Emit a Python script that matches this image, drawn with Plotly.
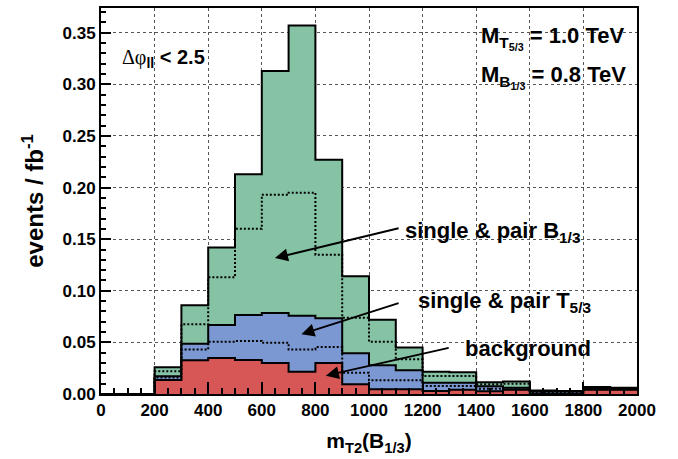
import plotly.graph_objects as go

# bin edges (GeV) and cumulative stacked levels
edges = list(range(0, 2001, 100))
background = [0, 0, 0.0135, 0.0326, 0.035, 0.033, 0.030, 0.0215, 0.030, 0.0094,
              0.0045, 0.0045, 0.003, 0.004, 0.0027, 0.004, 0.0005, 0.0005, 0.004, 0.004]
t53_pair_level = [0, 0, 0.0160, 0.043, 0.0507, 0.0514, 0.0497, 0.043, 0.0455, 0.0207,
                  0.0133, 0.0133, 0.0078, 0.0078, 0.0050, 0.0045, 0.002, 0.002, 0.0045, 0.0045]
t53_total_level = [0, 0, 0.0171, 0.0488, 0.0669, 0.0766, 0.0785, 0.0759, 0.0733, 0.0394,
                   0.0278, 0.023, 0.011, 0.011, 0.0075, 0.006, 0.003, 0.003, 0.005, 0.005]
b13_pair_level = [0, 0, 0.022, 0.0675, 0.113, 0.160, 0.193, 0.195, 0.135, 0.074,
                  0.0507, 0.0336, 0.0174, 0.0174, 0.0094, 0.0100, 0.003, 0.003, 0.006, 0.0055]
b13_total_level = [0, 0, 0.026, 0.086, 0.142, 0.213, 0.313, 0.357, 0.227, 0.114,
                   0.072, 0.045, 0.0216, 0.021, 0.0115, 0.012, 0.0035, 0.003, 0.0068, 0.006]

x_ticks = list(range(0, 2001, 200))
y_ticks = [0.00, 0.05, 0.10, 0.15, 0.20, 0.25, 0.30, 0.35]

GREEN = "#85C3A4"
BLUE = "#7B98D2"
RED = "#D65756"
FONT = "Liberation Sans"

W, H = 678, 459
ML, MR, MT, MB = 101, 41, 6, 65


def step(vals):
    return vals + [vals[-1]]


fig = go.Figure()
for lvl, col in [(b13_total_level, GREEN), (t53_total_level, BLUE), (background, RED)]:
    fig.add_trace(go.Scatter(x=edges, y=step(lvl), mode="lines", line_shape="hv",
                             line=dict(color="black", width=2), fill="tozeroy",
                             fillcolor=col, hoverinfo="skip", showlegend=False))
for lvl in [b13_pair_level, t53_pair_level]:
    fig.add_trace(go.Scatter(x=edges, y=step(lvl), mode="lines", line_shape="hv",
                             line=dict(color="black", width=2, dash="2px,2px"),
                             hoverinfo="skip", showlegend=False))

axis_common = dict(showline=True, linecolor="black", linewidth=2, mirror=True,
                   ticks="inside", tickcolor="black", tickwidth=1.5,
                   showgrid=True, gridcolor="#555555", gridwidth=1, griddash="dot",
                   zeroline=False,
                   tickfont=dict(family=FONT, size=17, color="black", weight="bold"))

fig.update_layout(
    width=W, height=H,
    margin=dict(l=ML, r=MR, t=MT, b=MB),
    paper_bgcolor="white", plot_bgcolor="white",
    xaxis=dict(range=[0, 2000], tickvals=x_ticks, ticklen=12,
               minor=dict(dtick=50, ticks="inside", ticklen=6, tickcolor="black",
                          tickwidth=1.5, showgrid=False),
               title=dict(text="m<sub>T2</sub>(B<sub>1/3</sub>)", standoff=14,
                          font=dict(family=FONT, size=21, color="black", weight="bold")),
               **axis_common),
    yaxis=dict(range=[0, 0.374], tickvals=y_ticks, tickformat=".2f", ticklen=10,
               minor=dict(dtick=0.01, ticks="inside", ticklen=5, tickcolor="black",
                          tickwidth=1.5, showgrid=False),
               title=dict(text="events / fb<sup>-1</sup>", standoff=12,
                          font=dict(family=FONT, size=24, color="black", weight="bold")),
               **axis_common),
)

arrows = [
    (649, 0.1317, 1116, 0.161),
    (748, 0.058, 1116, 0.0885),
    (839, 0.0178, 1303, 0.045),
]
for tx, ty, ax, ay in arrows:
    fig.add_annotation(x=tx, y=ty, ax=ax, ay=ay, xref="x", yref="y", axref="x", ayref="y",
                       text="", showarrow=True, arrowhead=2, arrowsize=1.3,
                       arrowwidth=2, arrowcolor="black")

labels = [
    (403, 231, "single &amp; pair B<sub>1/3</sub>", 22),
    (416, 302, "single &amp; pair T<sub>5/3</sub>", 22),
    (463, 348, "background", 22),
    (479, 36, "M<sub>T<sub>5/3</sub></sub> = 1.0 TeV", 22),
    (479, 75, "M<sub>B<sub>1/3</sub></sub> = 0.8 TeV", 22),
    (120, 57, "<span style='font-family:Liberation Serif;font-weight:normal'>&#916;&#966;</span><sub>ll</sub> &lt; 2.5", 20),
]
pw, ph = W - ML - MR, H - MT - MB
for px, py, txt, sz in labels:
    fig.add_annotation(x=(px - ML) / pw, y=(H - MB - py) / ph, xref="paper", yref="paper",
                       xanchor="left", yanchor="middle", text=txt, showarrow=False,
                       font=dict(family=FONT, size=sz, color="black", weight="bold"))

fig.write_html("out.html")
